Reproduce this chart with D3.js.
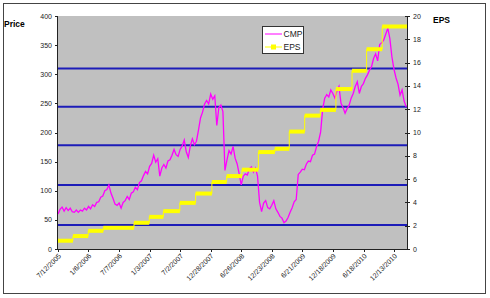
<!DOCTYPE html>
<html><head><meta charset="utf-8">
<script src="https://cdn.jsdelivr.net/npm/d3@7"></script>
<style>body{margin:0;background:#fff} text{font-family:"Liberation Sans",Arial,sans-serif}</style>
</head><body><svg id="c" width="490" height="298"></svg>
<script>
// ---- data ----
const startDate = "7/12/2005";
const endDate = "2/28/2011";
const cmpStepDays = 12;
const cmpValues = [
 60,68,72,65,71,66,70,64,63,67, 63,67,65,70,67,73,69,76,73,80,
 81,89,91,100,102,110,96,87,77,75, 79,70,80,83,90,85,96,98,106,102,
 114,117,126,133,129,142,147,161,149,155, 125,139,145,139,151,153,161,171,162,159,
 171,177,187,167,157,177,189,179,185,204, 225,235,249,255,249,266,257,263,212,243,
 247,236,135,153,169,163,176,156,146,129, 110,125,129,127,138,141,132,139,125,80,
 64,79,83,71,69,75,83,69,63,56, 53,45,48,54,63,71,81,85,128,132,
 137,136,146,151,150,161,163,176,185,201, 240,259,265,261,273,267,259,271,279,250,
 243,233,241,247,259,267,279,287,267,279, 284,293,299,307,313,327,335,323,351,354,
 359,369,379,361,330,309,294,283,264,273, 254,244
];
const epsDates = ["7/12/2005","10/8/2005","1/6/2006","4/5/2006","10/3/2006","1/1/2007",
 "3/25/2007","6/30/2007","10/1/2007","1/5/2008","4/1/2008","6/30/2008","10/5/2008",
 "1/10/2009","4/5/2009","7/5/2009","10/5/2009","1/5/2010","4/10/2010","7/5/2010","10/5/2010"];
const epsValues = [0.71,1.11,1.56,1.82,2.25,2.76,3.25,3.96,4.76,5.75,6.26,6.81,8.32,
 8.6,10.08,11.45,11.94,13.73,15.3,17.15,19.1];
const xTickLabels = ["7/12/2005","1/6/2006","7/7/2006","1/3/2007","7/2/2007","12/28/2007",
 "6/26/2008","12/23/2008","6/21/2009","12/18/2009","6/18/2010","12/13/2010"];
const priceTicks = [0,50,100,150,200,250,300,350,400];
const epsTicks = [0,2,4,6,8,10,12,14,16,18,20];
const refLevels = [41,110,178,244,310];
const seriesNames = ["CMP","EPS"];

// ---- chart ----
const parse = d3.utcParse("%m/%d/%Y");
const svg = d3.select("#c");
const L = 58, R = 407, T = 16, B = 249;
const x = d3.scaleUtc().domain([parse(startDate), parse(endDate)]).range([L, R]);
const yP = d3.scaleLinear().domain([0, 400]).range([B, T]);
const yE = d3.scaleLinear().domain([0, 20]).range([B, T]);

svg.append("rect").attr("x",3.5).attr("y",3.5).attr("width",482).attr("height",290)
  .attr("fill","#fff").attr("stroke","#444").attr("stroke-width",1);
svg.append("rect").attr("x",L).attr("y",T).attr("width",R-L).attr("height",B-T).attr("fill","#c0c0c0");

// reference lines
svg.append("g").selectAll("line").data(refLevels).join("line")
  .attr("x1",L).attr("x2",R).attr("y1",d=>yP(d)).attr("y2",d=>yP(d))
  .attr("stroke","#1c1cb8").attr("stroke-width",2);

// CMP line
const s0 = parse(startDate);
const cmpData = cmpValues.map((v,i)=>({d:d3.utcDay.offset(s0, i*cmpStepDays), v}));
svg.append("path").datum(cmpData)
  .attr("d", d3.line().x(d=>x(d.d)).y(d=>yP(d.v)))
  .attr("fill","none").attr("stroke","#ff00ff").attr("stroke-width",1.3);

// EPS steps
const epsData = epsValues.map((v,i)=>({d0:parse(epsDates[i]), d1: i+1<epsDates.length?parse(epsDates[i+1]):parse(endDate), v}));
const stepPts = [];
epsData.forEach(e=>{stepPts.push([e.d0,e.v]); stepPts.push([e.d1,e.v]);});
svg.append("path").datum(stepPts)
  .attr("d", d3.line().x(d=>x(d[0])).y(d=>yE(d[1])))
  .attr("fill","none").attr("stroke","#ffff00").attr("stroke-width",1);
svg.append("g").selectAll("rect").data(epsData).join("rect")
  .attr("x",d=>x(d.d0)).attr("width",d=>x(d.d1)-x(d.d0))
  .attr("y",d=>yE(d.v)-2).attr("height",4).attr("fill","#ffff00");

// axes
const ax = svg.append("g").attr("stroke","#222").attr("stroke-width",1);
ax.append("line").attr("x1",L-0.5).attr("x2",L-0.5).attr("y1",T).attr("y2",B);
ax.append("line").attr("x1",R+0.5).attr("x2",R+0.5).attr("y1",T).attr("y2",B);
ax.append("line").attr("x1",L).attr("x2",R+1).attr("y1",B+0.5).attr("y2",B+0.5);
priceTicks.forEach(t=>{
  ax.append("line").attr("x1",L-3).attr("x2",L).attr("y1",Math.round(yP(t))+0.5).attr("y2",Math.round(yP(t))+0.5);
});
epsTicks.forEach(t=>{
  ax.append("line").attr("x1",R-2).attr("x2",R+3).attr("y1",Math.round(yE(t))+0.5).attr("y2",Math.round(yE(t))+0.5);
});
xTickLabels.forEach(t=>{
  const px = Math.round(x(parse(t)))+0.5;
  ax.append("line").attr("x1",px).attr("x2",px).attr("y1",B).attr("y2",B+3);
});

const fs = 7;
svg.append("g").selectAll("text").data(priceTicks).join("text")
  .attr("x",52).attr("y",d=>yP(d)+2.5).attr("text-anchor","end")
  .attr("font-size",fs).attr("fill","#222").text(d=>d);
svg.append("g").selectAll("text").data(epsTicks).join("text")
  .attr("x",413).attr("y",d=>yE(d)+2.5).attr("text-anchor","start")
  .attr("font-size",fs).attr("fill","#222").text(d=>d);
svg.append("g").selectAll("text").data(xTickLabels).join("text")
  .attr("transform",d=>`translate(${x(parse(d))+1},${B+5}) rotate(-45)`)
  .attr("text-anchor","end").attr("dy","0.5em")
  .attr("font-size",fs).attr("fill","#222").text(d=>d);

svg.append("text").attr("x",4).attr("y",26.5).attr("font-size",8.5).attr("font-weight","bold").text("Price");
svg.append("text").attr("x",433).attr("y",22.5).attr("font-size",8.5).attr("font-weight","bold").text("EPS");

// legend
const lg = svg.append("g");
lg.append("rect").attr("x",262.5).attr("y",26.5).attr("width",41).attr("height",27)
  .attr("fill","#fff").attr("stroke","#333");
lg.append("line").attr("x1",265).attr("x2",282).attr("y1",34).attr("y2",34).attr("stroke","#ff00ff");
lg.append("line").attr("x1",265).attr("x2",282).attr("y1",47).attr("y2",47).attr("stroke","#ffff00");
lg.append("rect").attr("x",271).attr("y",44.5).attr("width",5).attr("height",5).attr("fill","#ffff00");
lg.selectAll("text.l").data(seriesNames).join("text").attr("class","l")
  .attr("x",283.5).attr("y",(d,i)=>37+i*13).attr("font-size",8.5).attr("fill","#222").text(d=>d);
</script></body></html>
